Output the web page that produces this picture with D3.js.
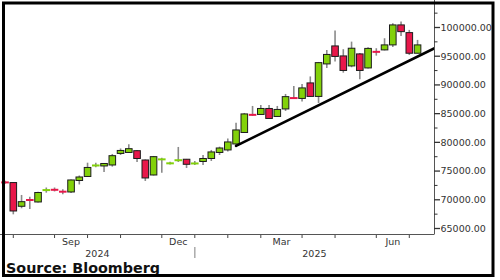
<!DOCTYPE html>
<html><head><meta charset="utf-8">
<script src="https://cdn.jsdelivr.net/npm/d3@7"></script>
<style>body{margin:0;background:#fff}svg{display:block}</style>
</head><body><svg id="c" width="500" height="280"></svg>
<script>
// ---- data (weekly candles) ----
const weeks = ["2024-07-27","2024-08-03","2024-08-10","2024-08-17","2024-08-24","2024-08-31",
"2024-09-07","2024-09-14","2024-09-21","2024-09-28","2024-10-05","2024-10-12","2024-10-19","2024-10-26",
"2024-11-02","2024-11-09","2024-11-16","2024-11-23","2024-11-30","2024-12-07","2024-12-14","2024-12-21","2024-12-28",
"2025-01-04","2025-01-11","2025-01-18","2025-01-25","2025-02-01","2025-02-08","2025-02-15","2025-02-22",
"2025-03-01","2025-03-08","2025-03-15","2025-03-22","2025-03-29","2025-04-05","2025-04-12","2025-04-19","2025-04-26",
"2025-05-03","2025-05-10","2025-05-17","2025-05-24","2025-05-31","2025-06-07","2025-06-14","2025-06-21","2025-06-28",
"2025-07-05","2025-07-12"];
const open  = [73100,73000,68870,70050,69620,71600,71830,71500,71360,73360,74060,75890,75890,76060,
78070,78240,78550,76930,74320,76970,76290,76760,77060,76270,76670,77190,78240,78680,79720,81720,84860,
84860,85900,84510,85820,87770,87650,90350,88000,93660,96790,95050,93310,95400,92960,95830,96100,96970,100450,99110,95520];
const high  = [73300,73050,70840,70540,71410,72140,72140,71830,73540,74230,76460,76460,76410,77980,
78940,79670,78680,77020,77630,77330,76640,79200,77110,76760,77800,78680,79250,80680,83430,85120,86340,
86510,86510,86340,88430,89820,90170,91480,94000,96100,99460,96220,97540,95570,96570,96390,98130,100750,101030,99580,97840];
const low   = [72800,67470,68520,68400,69530,71240,71450,70960,71180,72670,73970,75660,74840,75770,
77800,78150,76580,73280,74230,74720,76150,76580,75540,76060,76060,76760,77800,78410,79550,81640,84600,
84770,84080,84420,85470,87560,87120,87910,86860,92960,94060,92140,93080,90990,92870,95100,96010,96620,98530,95220,95490];
const close = [72950,68050,69670,69880,71270,71780,71650,71320,73450,73970,75630,76060,76320,77680,
78590,78900,77190,73800,77510,77110,76410,77020,76180,76380,77190,78330,79020,80070,82160,84950,84720,
85900,84160,85730,87960,87650,89480,88000,93880,95310,94960,92520,96390,92520,96360,95690,96970,100450,99280,95520,96970];
const yTicks = [65000,70000,75000,80000,85000,90000,95000,100000];
const yMinorTicks = [67500,72500,77500,82500,87500,92500,97500,102500];
const monthLabels = ["Sep","Dec","Mar","Jun"];
const yearLabels = ["2024","2025"];
const trendDates = ["2025-02-08","2025-07-26"];
const trendValues = [79400, 96350];
const sourceText = "Source: Bloomberg";

// ---- layout ----
const plot = {left:0, right:434, top:0, bottom:234};
const green = "#82d10a", red = "#e8174a";
const parse = d3.utcParse("%Y-%m-%d");
const data = weeks.map((w,i)=>({date:parse(w), o:open[i], h:high[i], l:low[i], c:close[i]}));

const x = d3.scaleUtc().domain([parse("2024-08-03"), parse("2025-07-05")]).range([13.3, 409.3]);
const y = d3.scaleLinear().domain([65000,100000]).range([228.5,27.5]);

const svg = d3.select("#c");
svg.append("defs").append("clipPath").attr("id","clip").append("rect")
  .attr("x",plot.left).attr("y",plot.top).attr("width",plot.right-plot.left).attr("height",plot.bottom-plot.top);

// month ticks: first weekly bar of each month
const monthFirst = d3.rollups(data.slice(1), v=>d3.min(v,d=>d.date), d=>d3.utcFormat("%Y-%m")(d.date)).map(d=>d[1]).sort((a,b)=>a-b);

// axes lines
svg.append("line").attr("x1",plot.left).attr("x2",plot.right).attr("y1",plot.bottom+0.5).attr("y2",plot.bottom+0.5)
  .attr("stroke","#555").attr("stroke-width",1);
svg.append("line").attr("x1",plot.right+0.5).attr("x2",plot.right+0.5).attr("y1",plot.top).attr("y2",plot.bottom+0.5)
  .attr("stroke","#555").attr("stroke-width",1);

// x ticks
svg.append("g").selectAll("line").data(monthFirst).join("line")
  .attr("x1",d=>x(d)).attr("x2",d=>x(d)).attr("y1",plot.bottom+1).attr("y2",plot.bottom+4)
  .attr("stroke","#444").attr("stroke-width",1);

// month labels (centered within the month)
const fmtMon = d3.utcFormat("%b");
const labelled = [];
monthFirst.forEach((d,i)=>{
  if (monthLabels.includes(fmtMon(d)) && i+1<monthFirst.length) labelled.push({t:fmtMon(d), x:(x(d)+x(monthFirst[i+1]))/2});
});
svg.append("g").selectAll("text").data(labelled).join("text")
  .attr("x",d=>d.x).attr("y",245).attr("text-anchor","middle")
  .attr("font-family","DejaVu Sans, Verdana, sans-serif").attr("font-size",9.5).attr("fill","#333").text(d=>d.t);

// year labels
const jan = monthFirst.find(d=>d.getUTCMonth()===0);
const yearSeg = [{t:yearLabels[0], x:(plot.left+x(jan))/2},{t:yearLabels[1], x:(x(jan)+plot.right)/2}];
svg.append("g").selectAll("text").data(yearSeg).join("text")
  .attr("x",d=>d.x).attr("y",257).attr("text-anchor","middle")
  .attr("font-family","DejaVu Sans, Verdana, sans-serif").attr("font-size",9.5).attr("fill","#333").text(d=>d.t);
svg.append("line").attr("x1",x(jan)).attr("x2",x(jan)).attr("y1",247).attr("y2",258)
  .attr("stroke","#aaa").attr("stroke-width",1.5);

// y ticks
svg.append("g").selectAll("line").data(yTicks).join("line")
  .attr("x1",plot.right).attr("x2",plot.right+6).attr("y1",d=>y(d)).attr("y2",d=>y(d))
  .attr("stroke","#333").attr("stroke-width",1.3);
svg.append("g").selectAll("line").data(yMinorTicks).join("line")
  .attr("x1",plot.right).attr("x2",plot.right+3.5).attr("y1",d=>y(d)).attr("y2",d=>y(d))
  .attr("stroke","#333").attr("stroke-width",1);
svg.append("g").selectAll("text").data(yTicks).join("text")
  .attr("x",plot.right+6.5).attr("y",d=>y(d)).attr("dy","0.35em")
  .attr("font-family","DejaVu Sans, Verdana, sans-serif").attr("font-size",9.5).attr("fill","#333")
  .text(d=>d3.format(".2f")(d));

// candles
const bw = 6.6;
const cg = svg.append("g").attr("clip-path","url(#clip)");
cg.selectAll("line.wick").data(data).join("line").attr("class","wick")
  .attr("x1",d=>x(d.date)).attr("x2",d=>x(d.date)).attr("y1",d=>y(d.h)).attr("y2",d=>y(d.l))
  .attr("stroke","#8a8a8a").attr("stroke-width",1.6);
const isThin = d => Math.abs(y(d.o)-y(d.c)) < 2;
cg.selectAll("rect.body").data(data.filter(d=>!isThin(d))).join("rect").attr("class","body")
  .attr("x",d=>x(d.date)-bw/2).attr("width",bw)
  .attr("y",d=>y(Math.max(d.o,d.c))).attr("height",d=>y(Math.min(d.o,d.c))-y(Math.max(d.o,d.c)))
  .attr("fill",d=>d.c>=d.o?green:red).attr("stroke","#1c1c1c").attr("stroke-width",1);
cg.selectAll("line.doji").data(data.filter(isThin)).join("line").attr("class","doji")
  .attr("x1",d=>x(d.date)-bw/2-0.5).attr("x2",d=>x(d.date)+bw/2+0.5)
  .attr("y1",d=>(y(d.o)+y(d.c))/2).attr("y2",d=>(y(d.o)+y(d.c))/2)
  .attr("stroke",d=>d.c>=d.o?green:red).attr("stroke-width",2);

// trend line
cg.append("line")
  .attr("x1",x(parse(trendDates[0]))).attr("y1",y(trendValues[0]))
  .attr("x2",x(parse(trendDates[1]))).attr("y2",y(trendValues[1]))
  .attr("stroke","#000").attr("stroke-width",2.6).attr("stroke-linecap","round");

// source
svg.append("text").attr("x",6).attr("y",272.5)
  .attr("font-family","DejaVu Sans, Verdana, sans-serif").attr("font-weight","bold").attr("font-size",13.5)
  .attr("textLength",154).attr("lengthAdjust","spacingAndGlyphs").attr("fill","#111").text(sourceText);

// outer frame
svg.append("rect").attr("x",3.5).attr("y",3).attr("width",489.5).attr("height",272.5)
  .attr("fill","none").attr("stroke","#000").attr("stroke-width",3);
</script>
</body></html>
